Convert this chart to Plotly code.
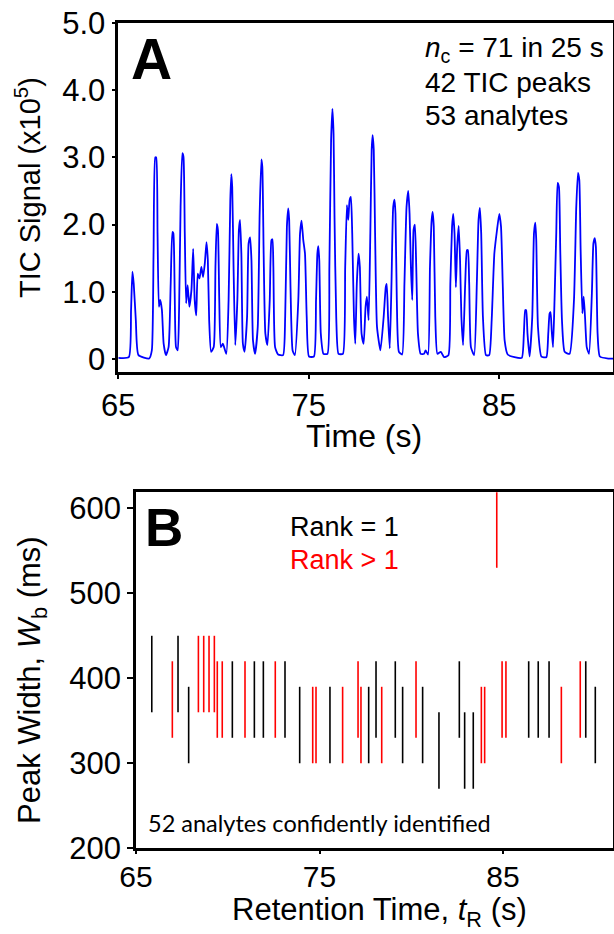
import plotly.graph_objects as go

# ---------------- Panel A: TIC trace (vertices) ----------------
tic_time = [
    65.00, 65.55,
    65.67, 65.74, 65.81, 65.92, 66.06,
    66.62,
    66.76, 66.85, 66.94, 66.99, 67.06, 67.13, 67.20, 67.29, 67.38, 67.50,
    67.64, 67.75, 67.84, 67.89, 67.96, 68.03, 68.12,
    68.19, 68.27, 68.36, 68.42, 68.49, 68.56, 68.64, 68.73, 68.84, 68.93, 69.01, 69.09, 69.17, 69.26, 69.36, 69.45, 69.54, 69.63, 69.70, 69.77, 69.87,
    70.01, 70.10, 70.17, 70.23, 70.30, 70.38, 70.49, 70.67,
    70.79, 70.88, 70.93, 70.98, 71.05, 71.14,
    71.25, 71.33, 71.39, 71.46, 71.54, 71.63,
    71.76, 71.84, 71.92, 71.99, 72.07, 72.18,
    72.32, 72.42, 72.51, 72.56, 72.63, 72.72, 72.83,
    72.95, 73.04, 73.09, 73.14, 73.23, 73.39, 73.65,
    73.76, 73.85, 73.92, 73.97, 74.04, 74.15, 74.27,
    74.45, 74.54, 74.62, 74.71, 74.80, 74.89, 75.01, 75.27,
    75.38, 75.45, 75.50, 75.55, 75.63, 75.77, 75.98,
    76.08, 76.17, 76.24, 76.30, 76.35, 76.44, 76.56, 76.79,
    76.91, 77.00, 77.07, 77.14, 77.21, 77.28, 77.37, 77.44,
    77.52, 77.61, 77.68, 77.77, 77.88, 77.98, 78.05, 78.14,
    78.23, 78.30, 78.35, 78.41, 78.48, 78.58, 78.76,
    78.93, 79.04, 79.09, 79.16, 79.25,
    79.34, 79.43, 79.50, 79.55, 79.62, 79.73, 79.90,
    80.02, 80.13, 80.22, 80.29, 80.36, 80.43, 80.50, 80.57, 80.64, 80.73, 80.87, 81.05, 81.13, 81.26,
    81.36, 81.45, 81.50, 81.56, 81.64, 81.75, 81.93, 82.10, 82.33,
    82.43, 82.52, 82.58, 82.65, 82.72, 82.79, 82.87, 82.94, 83.01, 83.10,
    83.21, 83.30, 83.35, 83.42, 83.51, 83.68,
    83.82, 83.91, 83.98, 84.05, 84.14, 84.30, 84.47,
    84.60, 84.74, 84.88, 85.00, 85.09, 85.18, 85.28, 85.44, 85.80, 86.18,
    86.29, 86.36, 86.41, 86.48, 86.59,
    86.73, 86.82, 86.89, 86.94, 87.03, 87.21, 87.47,
    87.57, 87.64, 87.69, 87.75, 87.82, 87.90, 87.99, 88.06, 88.13, 88.20, 88.29, 88.43, 88.69,
    88.92, 89.04, 89.13, 89.20, 89.27, 89.36, 89.43, 89.50, 89.59, 89.71,
    89.86, 89.94, 90.01, 90.07, 90.16, 90.28, 90.72, 91.10,
]
tic_signal = [
    0.02, 0.03,
    0.73, 1.30, 1.12, 0.58, 0.06,
    0.01,
    0.13, 1.57, 3.00, 3.00, 1.87, 0.78, 0.88, 0.73, 0.23, 0.06,
    0.18, 1.12, 1.89, 1.87, 0.98, 0.18, 0.13,
    0.73, 2.26, 3.06, 3.01, 1.87, 0.83, 1.10, 0.78, 1.03, 1.64, 0.88, 0.65, 1.27, 1.20, 1.37, 1.22, 1.42, 1.74, 1.47, 0.58, 0.11,
    0.18, 1.37, 2.01, 1.92, 0.88, 0.18, 0.23, 0.08,
    0.88, 2.36, 2.75, 2.56, 1.37, 0.21,
    0.88, 1.92, 2.07, 1.57, 0.23, 0.11,
    0.63, 1.72, 1.81, 1.47, 0.28, 0.08,
    0.48, 2.16, 2.97, 2.86, 1.57, 0.38, 0.21,
    0.88, 1.77, 1.78, 1.37, 0.18, 0.07, 0.06,
    0.63, 1.97, 2.24, 2.07, 1.07, 0.13, 0.06,
    0.88, 1.87, 2.06, 1.77, 1.57, 0.63, 0.04, 0.04,
    0.88, 1.57, 1.68, 1.47, 0.38, 0.08, 0.08,
    1.37, 3.25, 3.72, 3.35, 2.11, 0.63, 0.08, 0.08,
    1.37, 2.29, 2.07, 2.36, 2.41, 1.87, 0.63, 0.23,
    1.12, 1.57, 1.37, 0.38, 0.23, 0.78, 0.93, 0.58,
    1.87, 3.11, 3.33, 3.11, 1.87, 0.48, 0.13,
    0.63, 1.07, 1.12, 0.63, 0.16,
    1.12, 2.26, 2.37, 2.16, 0.88, 0.11, 0.07,
    1.12, 2.26, 2.50, 2.16, 1.37, 0.88, 1.92, 2.00, 1.37, 0.38, 0.08, 0.08, 0.13, 0.07,
    1.37, 2.07, 2.19, 1.97, 0.63, 0.08, 0.11, 0.03, 0.06,
    1.12, 1.97, 2.16, 1.87, 1.07, 1.67, 1.98, 1.47, 0.63, 0.21,
    1.12, 1.62, 1.62, 1.12, 0.18, 0.06,
    1.12, 2.07, 2.25, 1.87, 0.63, 0.06, 0.06,
    0.58, 1.57, 1.92, 2.16, 1.97, 1.12, 0.28, 0.07, 0.03, 0.02,
    0.38, 0.73, 0.73, 0.38, 0.04,
    0.63, 1.87, 2.03, 1.77, 0.48, 0.04, 0.03,
    0.38, 0.68, 0.70, 0.43, 0.18, 0.88, 1.87, 2.62, 2.56, 1.62, 0.58, 0.11, 0.08,
    0.88, 2.26, 2.77, 2.66, 1.62, 0.68, 0.93, 0.63, 0.18, 0.08,
    0.98, 1.72, 1.80, 1.67, 0.38, 0.04, 0.01, 0.01,
]
tic_tickvals = [0, 1, 2, 3, 4, 5]
tic_ticktext = ["0", "1.0", "2.0", "3.0", "4.0", "5.0"]
time_ticks = [65, 75, 85]

# ---------------- Panel B: peak widths ----------------
rt = [65.86, 66.98, 67.29, 67.87, 68.40, 68.69, 68.98, 69.27, 69.43, 69.70,
      70.25, 70.94, 71.45, 71.94, 72.59, 73.12, 73.92, 74.63, 74.81, 75.57,
      76.26, 77.10, 77.26, 77.68, 78.08, 78.39, 79.13, 79.53, 80.26, 80.62,
      81.51, 82.62, 82.91, 83.38, 83.82, 84.00, 84.66, 84.95, 85.16, 86.40,
      86.92, 87.51, 88.18, 89.21, 89.51, 90.03]
wb_low = [360, 330, 360, 300, 360, 360, 360, 360, 330, 330,
          330, 330, 330, 330, 330, 330, 300, 300, 300, 300,
          300, 330, 300, 300, 330, 300, 330, 300, 330, 300,
          270, 330, 270, 270, 300, 300, 530, 330, 330, 330,
          330, 330, 300, 330, 330, 300]
wb_high = [450, 420, 450, 390, 450, 450, 450, 450, 420, 420,
           420, 420, 420, 420, 420, 420, 390, 390, 390, 390,
           390, 420, 390, 390, 420, 390, 420, 390, 420, 390,
           360, 420, 360, 360, 390, 390, 640, 420, 420, 420,
           420, 420, 390, 420, 420, 390]
rank = [1, 2, 1, 1, 2, 2, 2, 2, 2, 2,
        1, 2, 1, 1, 2, 1, 1, 2, 2, 1,
        2, 2, 2, 1, 1, 2, 1, 1, 2, 1,
        1, 1, 1, 1, 2, 2, 2, 2, 2, 1,
        1, 1, 2, 2, 1, 1]
wb_ticks = [200, 300, 400, 500, 600]

W, H = 614, 934
def px(x):
    return x / W
def py(y):
    return 1 - y / H

FONT = "Liberation Sans, Arial, sans-serif"

fig = go.Figure()
fig.add_trace(go.Scatter(x=tic_time, y=tic_signal, mode="lines",
                         line=dict(color="#0000FF", width=1.8, shape="spline", smoothing=0.5),
                         xaxis="x", yaxis="y", showlegend=False, hoverinfo="skip"))

for r, col in [(1, "#000000"), (2, "#FF0000")]:
    xs, ys = [], []
    for t, lo, hi, rk in zip(rt, wb_low, wb_high, rank):
        if rk == r:
            xs += [t, t, None]
            ys += [lo, hi, None]
    fig.add_trace(go.Scatter(x=xs, y=ys, mode="lines", line=dict(color=col, width=1.6),
                             xaxis="x2", yaxis="y2", showlegend=False, hoverinfo="skip"))

def axis_style(size):
    return dict(showline=True, linecolor="black", linewidth=2.5, mirror=True,
                showgrid=False, zeroline=False, ticks="outside", tickcolor="black",
                automargin=False, tickwidth=2,
                tickfont=dict(family=FONT, size=size, color="black"))

a_left, a_right, a_ppu = 118.3, 613.0, 19.05
b_left, b_right, b_ppu = 136.0, 612.7, 18.35

fig.update_layout(
    width=W, height=H, margin=dict(l=0, r=0, t=0, b=0, autoexpand=False),
    paper_bgcolor="white", plot_bgcolor="white", showlegend=False,
    xaxis=dict(domain=[px(a_left), px(a_right)], range=[65, 65 + (a_right - a_left) / a_ppu],
               tickvals=time_ticks, ticklen=4, anchor="y", **axis_style(31)),
    yaxis=dict(domain=[py(372), py(22.7)], range=[-0.19, 5.0], tickvals=tic_tickvals,
               ticktext=tic_ticktext, ticklen=4, anchor="x", **axis_style(31)),
    xaxis2=dict(domain=[px(b_left), px(b_right)], range=[65, 65 + (b_right - b_left) / b_ppu],
                tickvals=time_ticks, ticklen=3, anchor="y2", ticklabelstandoff=-3,
                **axis_style(30)),
    yaxis2=dict(domain=[py(848.3), py(492.3)], range=[200, 618.8], tickvals=wb_ticks,
                ticklen=6, anchor="x2", **axis_style(31)),
)

ann = []
def add(text, x, y, size, color="black", family=FONT, xanchor="center", angle=0):
    ann.append(dict(text=text, x=px(x), y=py(y), xref="paper", yref="paper",
                    showarrow=False, xanchor=xanchor, yanchor="middle", textangle=angle,
                    font=dict(family=family, size=size, color=color)))

add("<b>A</b>", 151.7, 59, 57)
add("<b>B</b>", 164, 527, 53)
add("<i>n</i><sub>c</sub> = 71 in 25 s", 423, 50, 28, xanchor="left")
add("42 TIC peaks", 423, 82, 28, xanchor="left")
add("53 analytes", 423, 115, 28, xanchor="left")
add("Rank = 1", 288, 527, 27, xanchor="left")
add("Rank &gt; 1", 288, 560, 27, color="#FF0000", xanchor="left")
add("52 analytes confidently identified", 146, 823, 23.5, family="Lato, Carlito, sans-serif", xanchor="left")
add("TIC Signal (x10<sup>5</sup>)", 28, 188, 29, angle=-90)
add("Time (s)", 364, 436, 32)
add("Peak Width, <i>W</i><sub>b</sub> (ms)", 32, 680, 31, angle=-90)
add("Retention Time, <i>t</i><sub>R</sub> (s)", 379, 912, 31)
fig.update_layout(annotations=ann)

fig.write_html("out.html")
